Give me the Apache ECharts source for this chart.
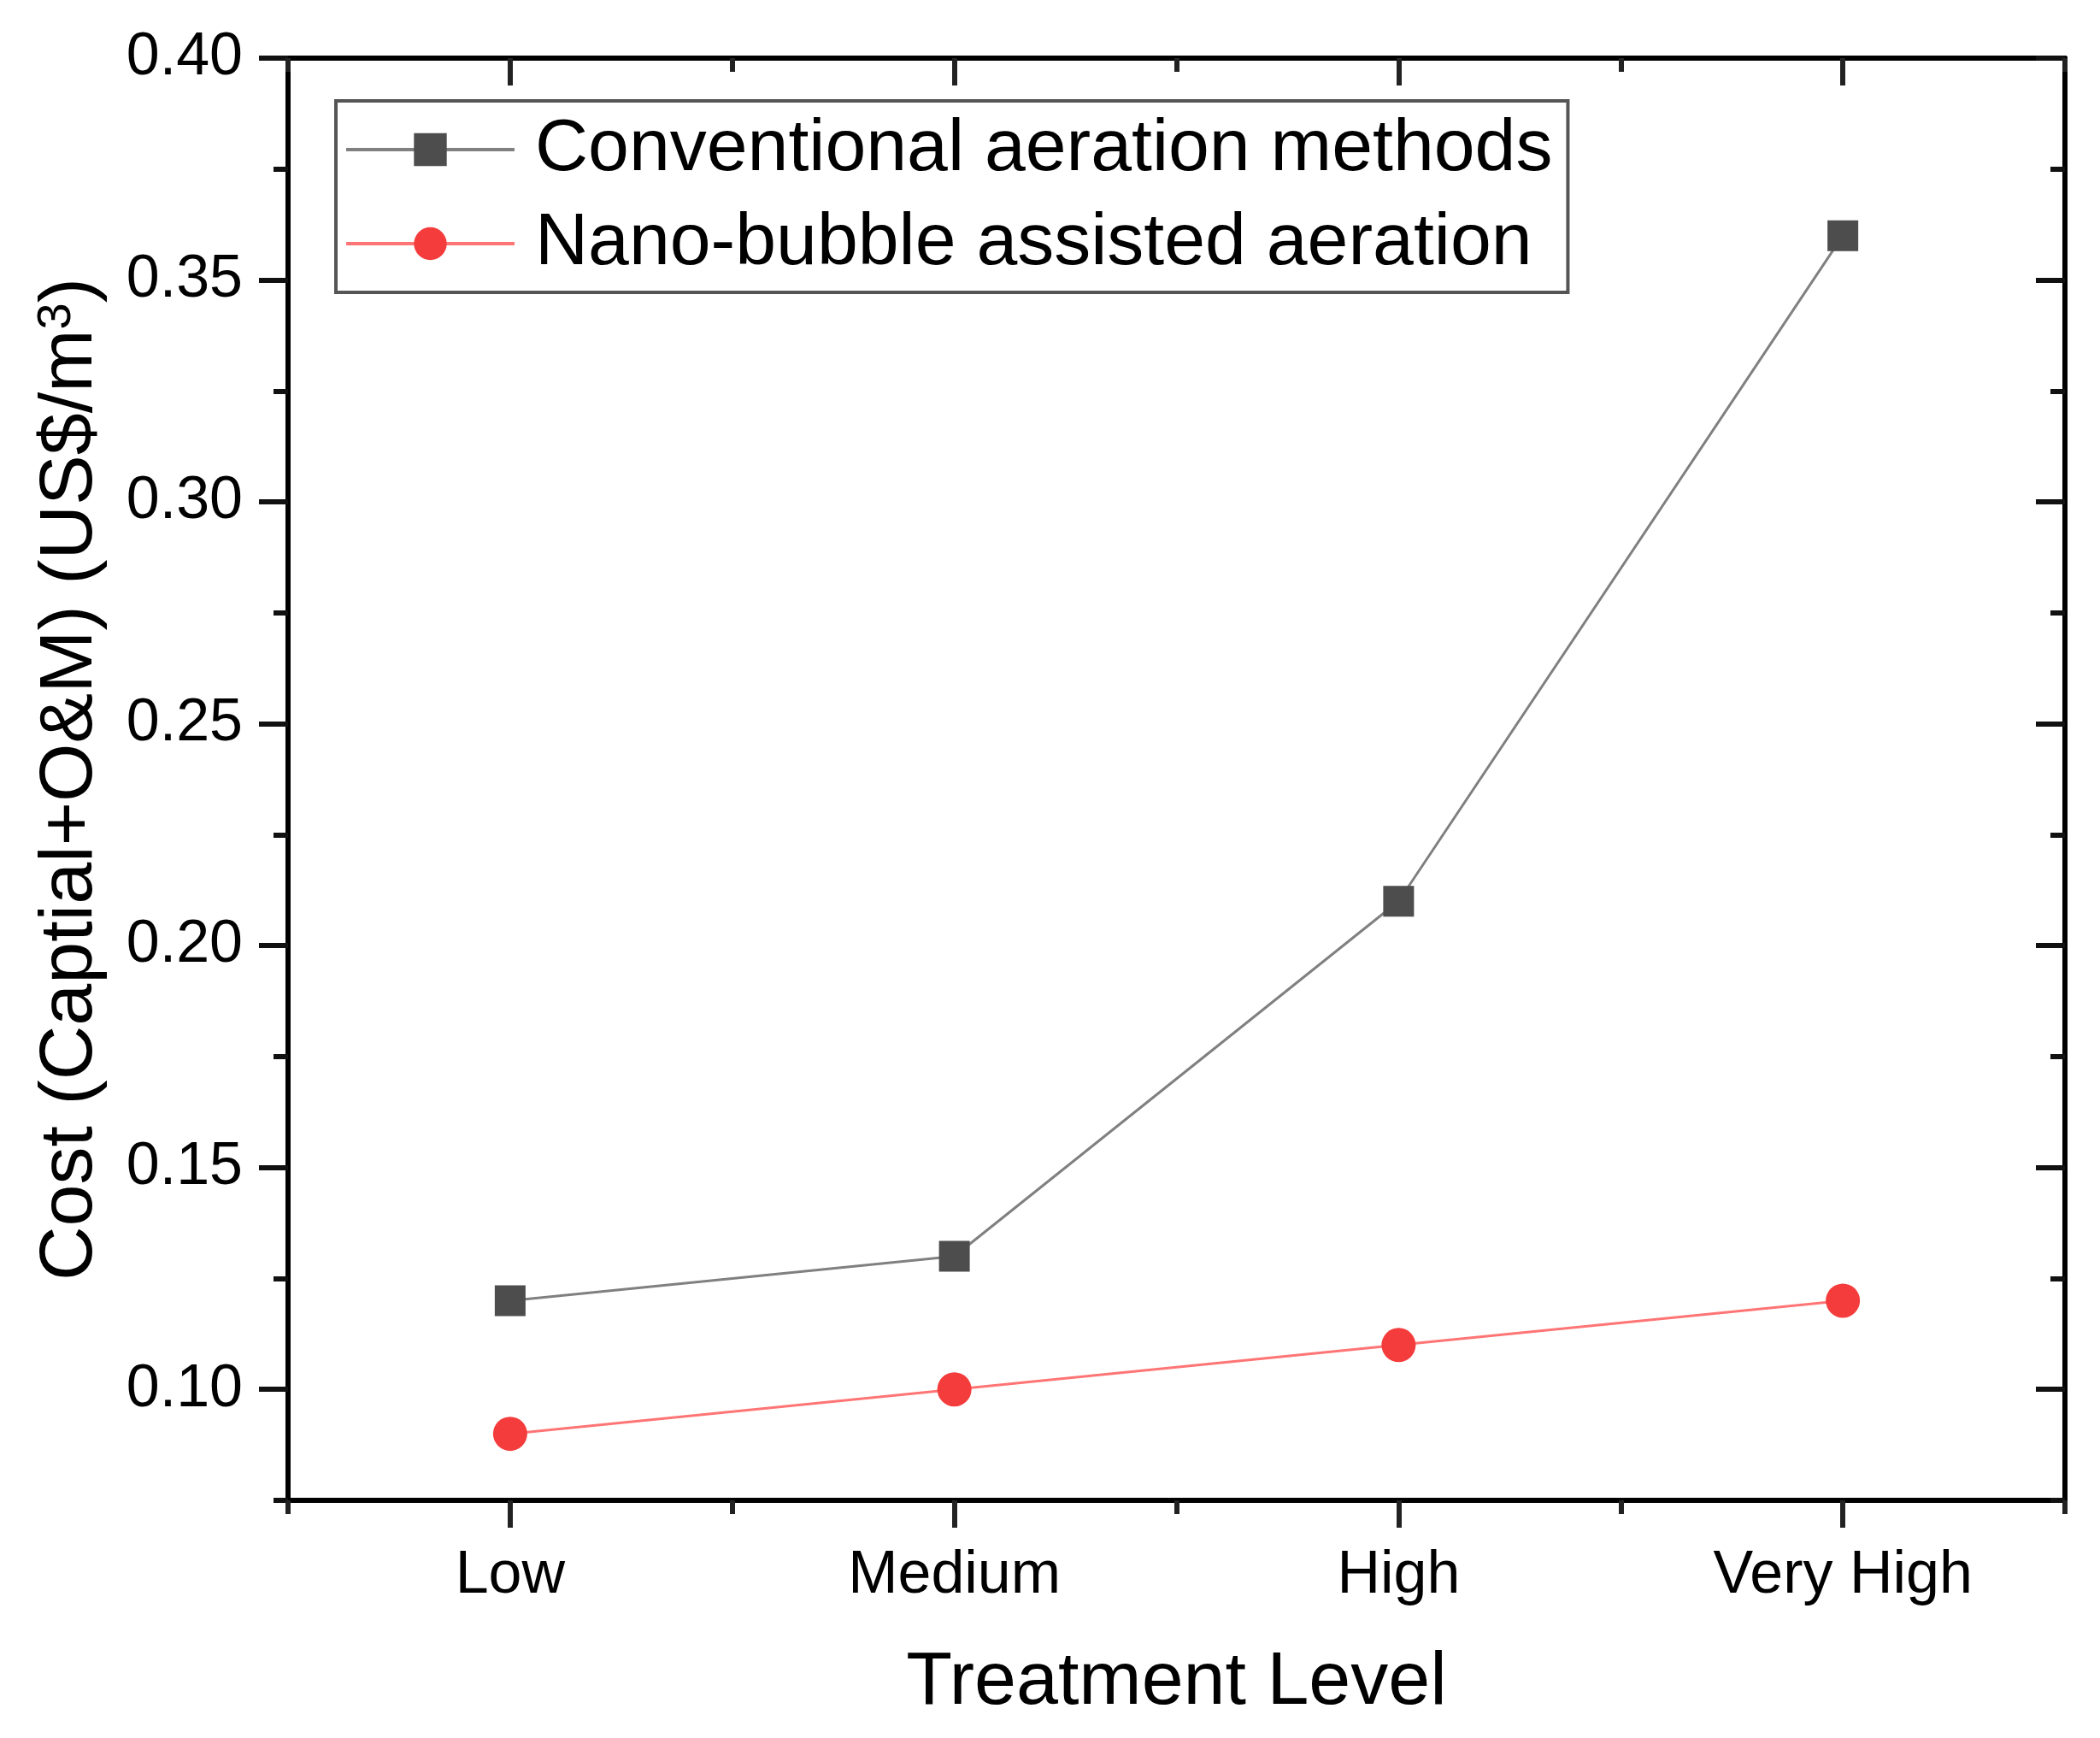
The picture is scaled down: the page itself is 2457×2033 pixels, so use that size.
<!DOCTYPE html>
<html>
<head>
<meta charset="utf-8">
<script src="https://cdn.jsdelivr.net/npm/echarts@6/dist/echarts.min.js"></script>
<style>
  html, body { margin: 0; padding: 0; background: #fff; }
  #chart { width: 2457px; height: 2033px; }
</style>
</head>
<body>
<div id="chart"></div>
<script>
const categories = ['Low', 'Medium', 'High', 'Very High'];
const conventional = [0.12, 0.13, 0.21, 0.36];
const nanoBubble = [0.09, 0.10, 0.11, 0.12];
const yMajorTicks = [0.10, 0.15, 0.20, 0.25, 0.30, 0.35, 0.40];
const yMinorTicks = [0.075, 0.125, 0.175, 0.225, 0.275, 0.325, 0.375];
const seriesNames = ['Conventional aeration methods', 'Nano-bubble assisted aeration'];

const FONT = 'Liberation Sans, Arial, sans-serif';
const AX = '#000';
const AXW = 6;
const YMIN = 0.075, YMAX = 0.40;

function xAx(pos, major, inside, showLine, showLabel) {
  return {
    type: 'category', position: pos, data: categories, boundaryGap: true,
    axisLine: { show: showLine, onZero: false, lineStyle: { color: AX, width: AXW } },
    axisTick: { show: true, alignWithLabel: major, inside: inside, length: major ? 32 : 16,
                lineStyle: { color: '#222', width: 6 } },
    axisLabel: { show: showLabel, fontFamily: FONT, fontSize: 70, color: '#000', margin: 54 },
    splitLine: { show: false }
  };
}
function yAx(pos, ticks, major, inside, showLine, showLabel, extra) {
  return Object.assign({
    type: 'value', position: pos, min: YMIN, max: YMAX,
    axisLine: { show: showLine, onZero: false, lineStyle: { color: AX, width: AXW } },
    axisTick: { show: true, customValues: ticks, inside: inside, length: major ? 34 : 17,
                lineStyle: { color: '#111', width: 6 } },
    axisLabel: { show: showLabel, customValues: ticks, fontFamily: FONT, fontSize: 70, color: '#000', margin: 53,
                 formatter: v => Number(v).toFixed(2) },
    splitLine: { show: false }
  }, extra || {});
}

const option = {
  animation: false,
  backgroundColor: '#fff',
  grid: { left: 337, right: 41, top: 68, bottom: 278, containLabel: false },
  legend: {
    orient: 'vertical', left: 393, top: 118,
    data: seriesNames,
    itemWidth: 197, itemHeight: 48, itemGap: 24,
    padding: [14, 18, 14, 10],
    borderColor: '#555', borderWidth: 4,
    lineStyle: { width: 4 },
    textStyle: { fontFamily: FONT, fontSize: 86, color: '#000', lineHeight: 86, padding: [0, 0, 0, 19] }
  },
  xAxis: [
    Object.assign(xAx('bottom', true, false, true, true), {
      name: 'Treatment Level', nameLocation: 'middle', nameGap: 170,
      nameTextStyle: { fontFamily: FONT, fontSize: 88, color: '#000' }
    }),
    xAx('bottom', false, false, false, false),
    xAx('top', true, true, true, false),
    xAx('top', false, true, false, false)
  ],
  yAxis: [
    yAx('left', yMajorTicks, true, false, true, true, {
      name: '{a|Cost (Captial+O&M) (US$/m}{s|3}{a|)}',
      nameLocation: 'middle', nameGap: 210, nameRotate: 90,
      nameTextStyle: {
        fontFamily: FONT, fontSize: 88, color: '#000',
        rich: {
          a: { fontFamily: FONT, fontSize: 88, color: '#000' },
          s: { fontFamily: FONT, fontSize: 56, color: '#000', verticalAlign: 'top', padding: [0, 0, 30, 0] }
        }
      }
    }),
    yAx('left', yMinorTicks, false, false, false, false),
    yAx('right', yMajorTicks, true, true, true, false),
    yAx('right', yMinorTicks, false, true, false, false)
  ],
  series: [
    {
      name: seriesNames[0], type: 'line', data: conventional,
      xAxisIndex: 0, yAxisIndex: 0,
      symbol: 'rect', symbolSize: 36,
      itemStyle: { color: '#4d4d4d' },
      lineStyle: { color: '#808080', width: 3 },
      z: 3
    },
    {
      name: seriesNames[1], type: 'line', data: nanoBubble,
      xAxisIndex: 0, yAxisIndex: 0,
      symbol: 'circle', symbolSize: 40,
      itemStyle: { color: '#f43c3c' },
      lineStyle: { color: '#ff7575', width: 3 },
      z: 3
    }
  ]
};

const chart = echarts.init(document.getElementById('chart'), null, { renderer: 'canvas' });
chart.setOption(option);
</script>
</body>
</html>
